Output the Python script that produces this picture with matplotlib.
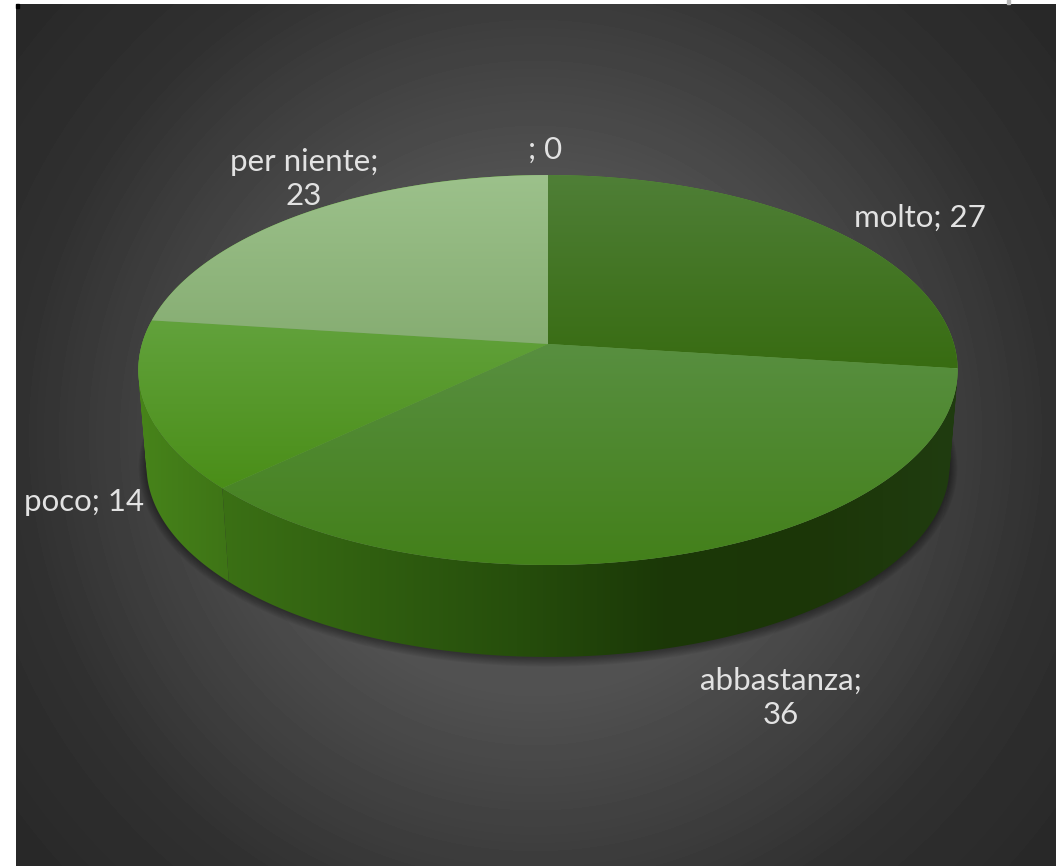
import numpy as np
import matplotlib
matplotlib.use('Agg')
import matplotlib.pyplot as plt
from matplotlib.colors import LinearSegmentedColormap
from matplotlib.patches import PathPatch
from matplotlib.path import Path

labels = ['molto', 'abbastanza', 'poco', 'per niente', '']
values = [27, 36, 14, 23, 0]
label_text = ['molto; 27', 'abbastanza;\n36', 'poco; 14', 'per niente;\n23', '; 0']

# label centres in pixels
label_x = [920, 781, 84, 304, 545]
label_y = [218, 698, 502, 179, 150]

top_colors = [('#4f7f37', '#386c12'), ('#588f40', '#43801a'), ('#62a23c', '#4a8e18'),
              ('#9cc18b', '#86ad72'), ('#9cc18b', '#86ad72')]
side_colors = [('#22400f', '#20390f'),
               ('#3b7015', '#305f10', '#264e0c', '#1b3807', '#1c3608', '#203c10'),
               ('#47841a', '#3e7416'),
               ('#47841a', '#47841a'), ('#47841a', '#47841a')]

plt.rcParams['font.family'] = ['Lato', 'DejaVu Sans']

W, H = 1056, 866
fig = plt.figure(figsize=(W / 100, H / 100), dpi=100, facecolor='white')
ax = fig.add_axes([0, 0, 1, 1])
ax.set_xlim(0, W)
ax.set_ylim(H, 0)
ax.axis('off')

# pie centre and perspective
cx, cy = 548, 344
a, b, k = 406, 191.5, 0.1333
lower_scale, lower_drop = 0.98, 96.4


def rim(theta, lower=False, grow=0, drop=0):
    u = np.sin(theta)
    v = np.cos(theta)
    d = 1 + k * v
    x = a * u / d
    y = -b * v / d
    if lower:
        x = x * lower_scale + grow * u
        y = y * lower_scale + lower_drop + drop + grow * -v
    return cx + x, cy + y


def gradient_fill(path, colors, zorder, horizontal=False):
    cmap = LinearSegmentedColormap.from_list('g', colors)
    patch = PathPatch(path, facecolor='none', edgecolor='none', transform=ax.transData)
    ax.add_patch(patch)
    grad = np.linspace(0, 1, 256)
    grad = grad.reshape(1, -1) if horizontal else grad.reshape(-1, 1)
    xs, ys = path.vertices[:, 0], path.vertices[:, 1]
    im = ax.imshow(grad, cmap=cmap, aspect='auto', zorder=zorder, interpolation='bilinear',
                   extent=[xs.min(), xs.max(), ys.max(), ys.min()])
    im.set_clip_path(patch)


def wall_path(t):
    # one quad per step, all wound the same way so the silhouette stays filled
    x1, y1 = rim(t)
    x2, y2 = rim(t, lower=True)
    verts, codes = [], []
    for j in range(len(t) - 1):
        q = [(x1[j], y1[j]), (x1[j + 1], y1[j + 1]), (x2[j + 1], y2[j + 1]), (x2[j], y2[j])]
        area = sum(q[n][0] * q[(n + 1) % 4][1] - q[(n + 1) % 4][0] * q[n][1] for n in range(4))
        if area < 0:
            q = q[::-1]
        verts += q + [q[0]]
        codes += [Path.MOVETO, Path.LINETO, Path.LINETO, Path.LINETO, Path.CLOSEPOLY]
    return Path(verts, codes)


# background
yy, xx = np.mgrid[4:H, 16:W]
dist = np.hypot(xx - 535, yy - 435)
bg = np.interp(dist, [0, 250, 430, 520, 675], [0x58, 0x52, 0x3c, 0x30, 0x28])
ax.imshow(bg, cmap='gray', vmin=0, vmax=255, extent=[16, W, H, 4], aspect='auto', zorder=0)
ax.fill([16, 19, 19, 16], [4, 4, 8, 8], color='black', zorder=1)
ax.fill([1007, 1010, 1010, 1007], [0, 0, 4, 4], color='#b8b8b8', zorder=1)

# soft shadow under the pie
t = np.linspace(0, 2 * np.pi, 400)
for g in np.linspace(8, 1, 8):
    sx, sy = rim(t, lower=True, grow=g, drop=g * 0.2)
    ax.fill(sx, sy, color='black', alpha=0.05, lw=0, zorder=1)

# slices, sides first
total = sum(values)
edges = np.cumsum([0] + values) / total * 2 * np.pi

for i in range(len(values)):
    if values[i] == 0:
        continue
    t = np.linspace(edges[i], edges[i + 1], 200)
    gradient_fill(wall_path(t), side_colors[i], 2, horizontal=True)

# lighter disc under the tops shows through as the thin seams
t = np.linspace(0, 2 * np.pi, 600)
x1, y1 = rim(t)
ax.fill(x1, y1, color='#6c9c52', lw=0, zorder=2.5)

for i in range(len(values)):
    if values[i] == 0:
        continue
    t = np.linspace(edges[i], edges[i + 1], 200)
    x1, y1 = rim(t)
    xs = np.concatenate([[cx], x1, [cx]])
    ys = np.concatenate([[cy], y1, [cy]])
    gradient_fill(Path(np.column_stack([xs, ys]), closed=True), top_colors[i], 3)

ax.set_xlim(0, W)
ax.set_ylim(H, 0)

for i in range(len(values)):
    ax.text(label_x[i], label_y[i], label_text[i], color='#e2e2e2', fontsize=22.5,
            ha='center', va='center', linespacing=1.3, zorder=5)

fig.savefig('out.png', dpi=100, facecolor='white')
